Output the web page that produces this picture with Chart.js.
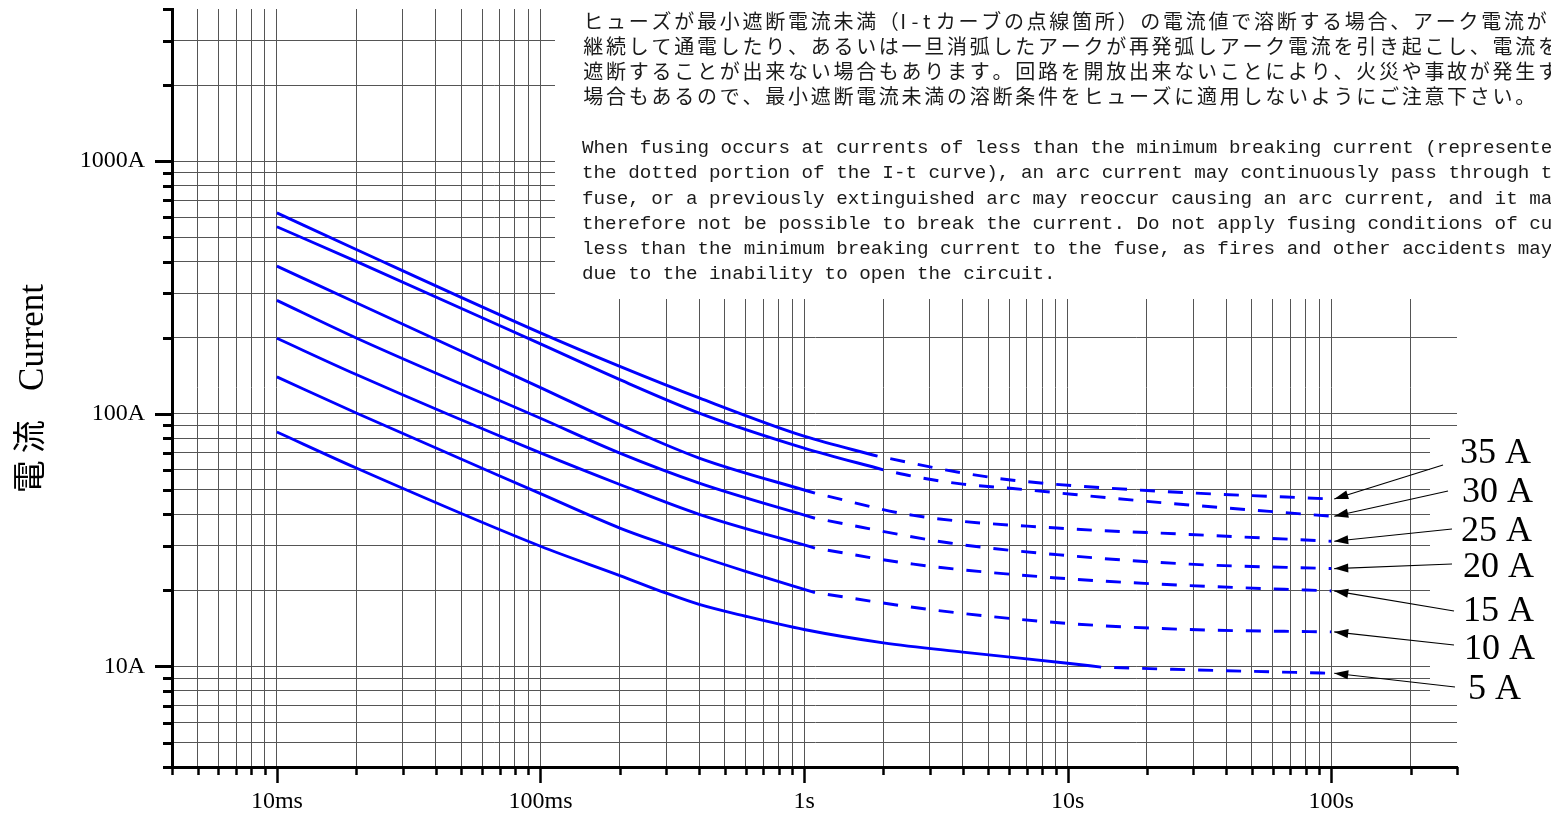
<!DOCTYPE html>
<html><head><meta charset="utf-8">
<script src="https://cdn.jsdelivr.net/npm/chart.js@4.4.1/dist/chart.umd.min.js"></script>
<style>html,body{margin:0;padding:0;background:#fff;overflow:hidden}canvas{display:block}</style>
</head><body>
<canvas id="c" width="1551" height="814"></canvas>
<script>
// ---- axis ticks / labels ----
const xGridTicks = [0.004,0.005,0.006,0.007,0.008,0.009,0.01,0.02,0.03,0.04,0.05,0.06,0.07,0.08,0.09,0.1,0.2,0.3,0.4,0.5,0.6,0.7,0.8,0.9,1,2,3,4,5,6,7,8,9,10,20,30,40,50,60,70,80,90,100,200,300];
const yGridTicks = [4,5,6,7,8,9,10,20,30,40,50,60,70,80,90,100,200,300,400,500,600,700,800,900,1000,2000,3000,4000];
const xMajorValues = [0.01,0.1,1,10,100];
const xTickLabels = ['10ms','100ms','1s','10s','100s'];
const yMajorValues = [10,100,1000];
const yTickLabels = ['10A','100A','1000A'];
const yAxisTitleJa = ['電','流'];
const yAxisTitleEn = 'Current';

// ---- fuse curves: [time (s), current (A)] ----
const ratingLabels = ['35 A','30 A','25 A','20 A','15 A','10 A','5 A'];
const solid35  = [[0.01,624],[0.02,447],[0.1,209],[0.2,154],[0.4,115.5],[1,81.5],[1.9,68]];
const dotted35 = [[1.9,68],[4,58.3],[6.2,54.6],[20,49.7],[100,46]];
const solid30  = [[0.01,550],[0.02,401],[0.1,189],[0.2,136.5],[0.4,100.7],[1,73.2],[2,60]];
const dotted30 = [[2,60],[2.6,56.5],[4,52.7],[6.2,50.6],[20,45],[100,39.3]];
const solid25  = [[0.01,384],[0.02,275],[0.1,127],[0.2,90.6],[0.4,66.8],[1.1,48.5]];
const dotted25 = [[1.1,48.5],[2.6,39.6],[9.1,35.3],[29,33.3],[100,31.3]];
const solid20  = [[0.01,281],[0.02,199.5],[0.1,96],[0.2,69.9],[0.4,53.2],[1.1,38.6]];
const dotted20 = [[1.1,38.6],[3.57,30.8],[9.1,27.7],[29,25.4],[100,24.4]];
const solid15  = [[0.01,199],[0.02,143],[0.1,70],[0.2,52.5],[0.4,40],[1.1,29.4]];
const dotted15 = [[1.1,29.4],[2.6,25.4],[9.1,22.4],[29,20.9],[100,19.9]];
const solid10  = [[0.01,140],[0.02,100.7],[0.1,48.3],[0.2,35.3],[0.3,30.3],[0.4,27.3],[0.6,23.8],[1.1,19.6]];
const dotted10 = [[1.1,19.6],[3,16.8],[10,14.8],[29,14],[100,13.7]];
const solid5   = [[0.01,84.7],[0.02,61],[0.1,29.9],[0.2,22.9],[0.3,19.5],[0.4,17.6],[0.6,15.8],[1,14],[2,12.4],[4,11.4],[10,10.3],[13.4,9.94]];
const dotted5  = [[13.4,9.94],[29,9.7],[100,9.4]];

const noteJa = [
 'ヒューズが最小遮断電流未満（I-tカーブの点線箇所）の電流値で溶断する場合、アーク電流が',
 '継続して通電したり、あるいは一旦消弧したアークが再発弧しアーク電流を引き起こし、電流を',
 '遮断することが出来ない場合もあります。回路を開放出来ないことにより、火災や事故が発生する',
 '場合もあるので、最小遮断電流未満の溶断条件をヒューズに適用しないようにご注意下さい。'
];
const noteEn = [
 'When fusing occurs at currents of less than the minimum breaking current (represented by',
 'the dotted portion of the I-t curve), an arc current may continuously pass through the',
 'fuse, or a previously extinguished arc may reoccur causing an arc current, and it may',
 'therefore not be possible to break the current. Do not apply fusing conditions of currents',
 'less than the minimum breaking current to the fuse, as fires and other accidents may occur',
 'due to the inability to open the circuit.'
];

const curves = [[solid35,dotted35],[solid30,dotted30],[solid25,dotted25],[solid20,dotted20],[solid15,dotted15],[solid10,dotted10],[solid5,dotted5]];
const pts = a => a.map(p => ({x:p[0], y:p[1]}));
const datasets = [];
curves.forEach(([s,d]) => {
  datasets.push({data:pts(s), borderColor:'#0000ff', borderWidth:2.9, pointRadius:0, cubicInterpolationMode:'monotone', fill:false});
  datasets.push({data:pts(d), borderColor:'#0000ff', borderWidth:2.9, pointRadius:0, cubicInterpolationMode:'monotone', fill:false, borderDash:[15,13], borderDashOffset:15});
});

function sameVal(a,b){ return Math.abs(Math.log10(a)-Math.log10(b))<1e-6; }
function labelFor(v, vals, labs){ for(let i=0;i<vals.length;i++){ if(sameVal(v,vals[i])) return labs[i]; } return ''; }
function gridCol(ctx, lo, hi){ const v=ctx.tick && ctx.tick.value; if(v===undefined) return '#555'; if(sameVal(v,lo)||sameVal(v,hi)) return 'rgba(0,0,0,0)'; return '#555'; }

const SERIF = '"Liberation Serif", "Times New Roman", serif';

const overlay = {
  id:'overlay',
  beforeDatasetsDraw(chart){
    const ctx = chart.ctx, xs = chart.scales.x, ys = chart.scales.y, ca = chart.chartArea;
    ctx.save();
    ctx.fillStyle = '#fff';
    ctx.fillRect(555, 0, 1551-555, 299);
    ctx.fillRect(1430, 430, 121, 267);
    // tick marks
    ctx.strokeStyle = '#000';
    ctx.lineWidth = 3;
    yGridTicks.forEach(v => {
      const y = Math.round(ys.getPixelForValue(v)) + 0.5;
      const len = yMajorValues.some(m => sameVal(m,v)) ? 17 : 9;
      ctx.beginPath(); ctx.moveTo(ca.left - len, y); ctx.lineTo(ca.left, y); ctx.stroke();
    });
    ctx.lineWidth = 2.5;
    xGridTicks.forEach(v => {
      const x = Math.round(xs.getPixelForValue(v)) + 0.5;
      const len = xMajorValues.some(m => sameVal(m,v)) ? 16 : 8;
      ctx.beginPath(); ctx.moveTo(x, ca.bottom); ctx.lineTo(x, ca.bottom + len); ctx.stroke();
    });
    ctx.restore();
  },
  afterDraw(chart){
    const ctx = chart.ctx, xs = chart.scales.x, ys = chart.scales.y;
    ctx.save();
    // Japanese note
    ctx.fillStyle = '#1a1a1a';
    ctx.textBaseline = 'middle';
    ctx.textAlign = 'left';
    ctx.font = '20px "Noto Sans CJK JP", sans-serif';
    const jaY = [21.7, 46.7, 71.7, 96.7];
    noteJa.forEach((line, i) => {
      let x = 582;
      for (const ch of line) {
        const half = ch.charCodeAt(0) < 0x100;
        const adv = half ? 11.37 : 22.73;
        if (half) { ctx.fillText(ch, x, jaY[i]); }
        else { const w = ctx.measureText(ch).width; ctx.fillText(ch, x + (adv - w)/2, jaY[i]); }
        x += adv;
      }
    });
    // English note
    ctx.font = '19.25px "Liberation Mono", monospace';
    const enY = [148.3, 173.3, 198.8, 224, 249.3, 274.3];
    noteEn.forEach((line, i) => ctx.fillText(line, 582, enY[i]));

    // rating labels + arrows
    ctx.fillStyle = '#000';
    ctx.strokeStyle = '#000';
    ctx.font = '36px ' + SERIF;
    const labX = [1460,1462,1461,1463,1463,1464,1468];
    const labY = [454,493,532,568,612,650,690];
    const tails = [[1443,465],[1448,491],[1452,529],[1452,564],[1454,611],[1454,645],[1455,687]];
    ratingLabels.forEach((t,i) => {
      ctx.fillText(t, labX[i], labY[i]);
      const d = curves[i][1]; const last = d[d.length-1];
      const tx = xs.getPixelForValue(last[0]) + 3, ty = ys.getPixelForValue(last[1]);
      const [x1,y1] = tails[i];
      ctx.lineWidth = 1.2;
      ctx.beginPath(); ctx.moveTo(x1,y1); ctx.lineTo(tx,ty); ctx.stroke();
      const ang = Math.atan2(ty-y1, tx-x1), L = 14, W = 4.5;
      ctx.beginPath(); ctx.moveTo(tx,ty);
      ctx.lineTo(tx - L*Math.cos(ang) + W*Math.sin(ang), ty - L*Math.sin(ang) - W*Math.cos(ang));
      ctx.lineTo(tx - L*Math.cos(ang) - W*Math.sin(ang), ty - L*Math.sin(ang) + W*Math.cos(ang));
      ctx.closePath(); ctx.fill();
    });

    // y-axis title (rotated)
    ctx.save();
    ctx.translate(43, 337.5);
    ctx.rotate(-Math.PI/2);
    ctx.font = '35px ' + SERIF;
    ctx.textAlign = 'center';
    ctx.textBaseline = 'alphabetic';
    ctx.fillText(yAxisTitleEn, 0, 0);
    ctx.restore();
    ctx.font = '33px "Noto Sans CJK JP", sans-serif';
    const jaCenters = [476.7, 436.7];
    yAxisTitleJa.forEach((ch, i) => {
      ctx.save();
      ctx.translate(28, jaCenters[i]);
      ctx.rotate(-Math.PI/2);
      ctx.textAlign = 'center'; ctx.textBaseline = 'middle';
      ctx.fillText(ch, 0, 0);
      ctx.restore();
    });
    ctx.restore();
  }
};

new Chart(document.getElementById('c'), {
  type: 'line',
  data: { datasets },
  plugins: [overlay],
  options: {
    responsive: false, animation: false, devicePixelRatio: 1,
    layout: { padding: { left: 0, right: 94, top: 9, bottom: 0 } },
    plugins: { legend: { display: false }, tooltip: { enabled: false } },
    scales: {
      x: {
        type: 'logarithmic', min: 0.004, max: 300,
        afterBuildTicks: s => { s.ticks = xGridTicks.map(v => ({value: v})); },
        afterFit: s => { s.height = 47; s.paddingLeft = 0; s.paddingRight = 0; s.paddingTop = 0; s.paddingBottom = 0; },
        grid: { color: c => gridCol(c, 0.004, 300), lineWidth: 1, drawTicks: false },
        border: { display: true, color: '#000', width: 3 },
        ticks: { autoSkip: false, maxRotation: 0, minRotation: 0, padding: 20, color: '#000',
                 font: { family: SERIF, size: 24 },
                 callback: v => labelFor(v, xMajorValues, xTickLabels) }
      },
      y: {
        type: 'logarithmic', min: 4, max: 4000,
        afterBuildTicks: s => { s.ticks = yGridTicks.map(v => ({value: v})); },
        afterFit: s => { s.width = 172; s.paddingTop = 0; s.paddingBottom = 0; s.paddingLeft = 0; s.paddingRight = 0; },
        grid: { color: c => gridCol(c, 4, 4000), lineWidth: 1, drawTicks: false },
        border: { display: true, color: '#000', width: 3 },
        ticks: { autoSkip: false, padding: 27, color: '#000',
                 font: { family: SERIF, size: 24 },
                 callback: v => labelFor(v, yMajorValues, yTickLabels) }
      }
    }
  }
});
</script>
</body></html>
